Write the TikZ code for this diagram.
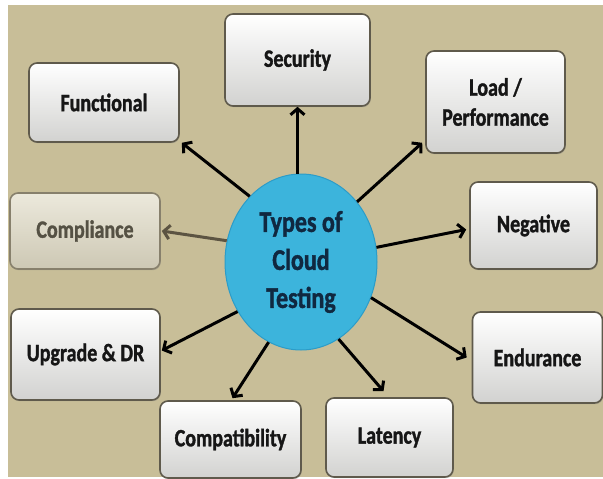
\documentclass[tikz,border=0pt]{standalone}
\usepackage{fontspec}
\newfontfamily\calfont[FakeStretch=0.8, BoldFeatures={FakeBold=1.3}]{Carlito}
\usetikzlibrary{arrows.meta,shapes.geometric,shadows}
\definecolor{bgbeige}{RGB}{200,190,152}
\definecolor{boxedge}{RGB}{95,90,76}
\definecolor{boxbot}{RGB}{210,210,208}
\definecolor{boxtxt}{RGB}{22,22,22}
\definecolor{compedge}{RGB}{135,128,108}
\definecolor{comptop}{RGB}{236,233,220}
\definecolor{compbot}{RGB}{205,200,180}
\definecolor{comptxt}{RGB}{85,81,68}
\definecolor{compline}{RGB}{92,84,66}
\definecolor{hubfill}{RGB}{60,180,220}
\definecolor{hubedge}{RGB}{44,156,200}
\definecolor{hubtxt}{RGB}{16,40,64}
\tikzset{
  topicbox/.style={rectangle, rounded corners=8pt, draw=boxedge, line width=1.6pt,
    top color=white, bottom color=boxbot, text=boxtxt, align=center,
    font=\calfont\bfseries\fontsize{25}{30}\selectfont,
    drop shadow={shadow xshift=0.8pt, shadow yshift=-1.2pt, opacity=0.35}},
  fadedbox/.style={topicbox, draw=compedge, top color=comptop, bottom color=compbot, text=comptxt},
  hub/.style={ellipse, fill=hubfill, draw=hubedge, line width=1pt, text=hubtxt, align=center,
    font=\calfont\bfseries\fontsize{30}{38}\selectfont},
  link/.style={line width=3pt, -{Straight Barb[length=6pt,width=14pt,line width=3pt]}},
}
\begin{document}
\begin{tikzpicture}[x=1pt,y=-1pt]
\useasboundingbox (0,0) rectangle (603,479);
\fill[white] (0,0) rectangle (603,479);
\fill[bgbeige] (8,5) rectangle (603,477);

\node[hub, minimum width=152pt, minimum height=176pt] (c) at (301,262) {Types of\\Cloud\\Testing};

\node[topicbox, minimum width=145pt, minimum height=92pt] (sec) at (297.5,60) {Security};
\node[topicbox, minimum width=150pt, minimum height=79pt] (fun) at (104,102.5) {Functional};
\node[topicbox, minimum width=139pt, minimum height=102pt] (load) at (495.5,102) {Load /\\Performance};
\node[fadedbox, minimum width=150pt, minimum height=76pt] (comp) at (85,231) {Compliance};
\node[topicbox, minimum width=127pt, minimum height=87pt] (neg) at (533.5,225.5) {Negative};
\node[topicbox, minimum width=149pt, minimum height=91pt] (upg) at (85.5,354.5) {Upgrade \& DR};
\node[topicbox, minimum width=130pt, minimum height=91pt] (endu) at (537.5,357.5) {Endurance};
\node[topicbox, minimum width=141pt, minimum height=77pt] (compat) at (230.5,439.5) {Compatibility};
\node[topicbox, minimum width=127pt, minimum height=79pt] (lat) at (389.5,437.5) {Latency};

\draw[link] (c.north -| sec.south) -- (sec.south);
\draw[link] (c.128.8) -- ([xshift=2pt]fun.south east);
\draw[link] (c.47.9) -- ([xshift=-3pt,yshift=11pt]load.south west);
\draw[link, draw=compline] (c.164.5) -- ([xshift=1pt]comp.east);
\draw[link] (c.11.6) -- ([xshift=-3pt,yshift=-4pt]neg.west);
\draw[link] (c.218) -- ([xshift=1pt,yshift=4pt]upg.east);
\draw[link] (c.333.4) -- ([xshift=-5pt]endu.west);
\draw[link] (c.248) -- ([xshift=2pt,yshift=2pt]compat.north);
\draw[link] (c.296.6) -- ([xshift=-6pt,yshift=6pt]lat.north);
\end{tikzpicture}
\end{document}
